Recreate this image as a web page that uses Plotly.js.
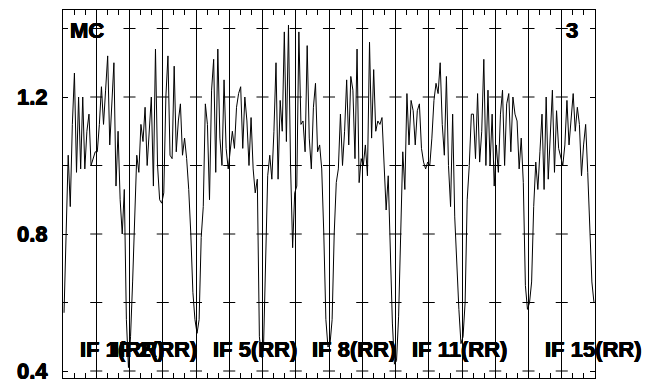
<!DOCTYPE html>
<html>
<head>
<meta charset="utf-8">
<script src="https://cdn.plot.ly/plotly-3.0.1.min.js"></script>
<style>html,body{margin:0;padding:0;background:#fff;}#chart{width:652px;height:380px;}</style>
</head>
<body>
<div id="chart"></div>
<script>
// Amplitude per channel, 16 channels per IF
var if01 = [0.57, 0.80, 1.03, 0.88, 1.12, 1.27, 0.98, 1.20, 0.99, 1.20, 0.99, 1.10, 1.15, 1.00, 1.02, 1.04];
var if02 = [1.04, 1.12, 1.23, 1.12, 1.22, 1.32, 1.06, 1.20, 1.30, 0.94, 1.10, 0.90, 0.80, 0.93, 0.55, 0.41];
var if03 = [0.50, 0.66, 0.88, 1.03, 0.98, 1.12, 1.07, 1.17, 1.00, 1.09, 1.20, 0.94, 1.34, 1.00, 0.90, 0.89];
var if04 = [0.92, 1.20, 1.32, 1.03, 1.02, 1.29, 1.04, 1.13, 1.18, 1.03, 1.08, 1.02, 0.93, 0.80, 0.63, 0.55];
var if05 = [0.51, 0.55, 0.79, 0.88, 1.18, 1.12, 0.90, 1.22, 1.31, 0.98, 1.34, 1.08, 1.00, 1.25, 1.05, 0.99];
var if06 = [1.04, 1.10, 1.05, 1.17, 1.21, 1.23, 1.05, 1.20, 1.13, 1.00, 1.14, 0.99, 0.92, 0.96, 0.50, 0.44];
var if07 = [0.47, 0.70, 0.97, 1.03, 0.96, 1.10, 1.30, 0.96, 1.19, 1.10, 1.39, 1.07, 1.41, 1.00, 0.76, 0.92];
var if08 = [0.94, 1.39, 1.12, 1.13, 1.04, 1.35, 1.08, 0.99, 1.17, 1.24, 1.04, 1.06, 0.99, 0.80, 0.55, 0.47];
var if09 = [0.48, 0.55, 0.80, 0.95, 0.99, 1.15, 1.00, 1.10, 1.25, 1.06, 1.26, 1.22, 1.02, 1.34, 0.95, 1.02];
var if10 = [1.00, 1.06, 0.97, 1.36, 1.08, 1.28, 1.10, 1.13, 1.12, 1.14, 1.01, 0.87, 0.97, 0.72, 0.54, 0.42];
var if11 = [0.43, 0.56, 0.85, 1.04, 0.93, 1.21, 1.06, 1.19, 1.16, 1.06, 1.16, 1.18, 1.05, 1.01, 0.99, 1.01];
var if12 = [1.00, 1.08, 1.19, 1.24, 1.21, 1.30, 1.12, 1.03, 1.26, 1.00, 0.88, 1.15, 0.85, 0.70, 0.58, 0.48];
var if13 = [0.50, 0.60, 0.90, 1.00, 1.15, 1.15, 1.02, 1.21, 1.01, 1.10, 1.31, 1.00, 1.22, 1.00, 1.15, 0.94];
var if14 = [1.06, 0.98, 1.15, 1.22, 1.00, 1.18, 1.21, 1.04, 1.20, 1.15, 1.13, 0.99, 1.08, 0.95, 0.65, 0.58];
var if15 = [0.60, 0.66, 0.88, 1.01, 0.93, 1.04, 1.15, 0.93, 1.20, 0.96, 1.10, 1.22, 0.98, 1.16, 1.05, 1.02];
var if16 = [1.00, 1.06, 1.19, 1.06, 1.15, 1.21, 1.10, 1.17, 1.12, 0.97, 1.06, 1.12, 0.98, 0.80, 0.66, 0.60];

var ifLabels = [1, 2, 5, 8, 11, 15];
var yTickVals = [0.4, 0.6, 0.8, 1.0, 1.2, 1.4];
var yTickText = ['0.4', '', '0.8', '', '1.2', ''];
var cornerLeft = 'MC';
var cornerRight = '3';

var allIF = [if01, if02, if03, if04, if05, if06, if07, if08, if09, if10, if11, if12, if13, if14, if15, if16];
var nIF = allIF.length;

var xs = [], ys = [];
allIF.forEach(function (arr, k) {
  var n = arr.length;
  arr.forEach(function (v, j) {
    xs.push(k + (j + 0.5) / n);
    ys.push(v);
  });
});

// tick crosses on the interior IF separators
var cx = [], cy = [];
for (var b = 1; b < nIF; b++) {
  yTickVals.forEach(function (t) { cx.push(b); cy.push(t); });
}

function mkFont() {
  return {family: 'Liberation Sans', size: 22, color: '#000', weight: 'bold',
          shadow: '0.45px 0 0 #000, -0.45px 0 0 #000, 0 0.45px 0 #000, 0 -0.45px 0 #000'};
}

var traces = [
  {x: cx, y: cy, type: 'scatter', mode: 'markers', hoverinfo: 'skip',
   marker: {symbol: 'line-ew', size: 8.6, color: '#000', line: {color: '#000', width: 1}}},
  {x: xs, y: ys, type: 'scatter', mode: 'lines', hoverinfo: 'skip',
   line: {color: '#000', width: 1}}
];

var annotations = ifLabels.map(function (k) {
  return {xref: 'x', yref: 'paper', x: (k - 1) + 0.44, y: 0.077, xanchor: 'left', yanchor: 'middle',
          text: 'IF ' + k + '(RR)', showarrow: false, font: mkFont()};
});
annotations.push({xref: 'paper', yref: 'paper', x: 0.0103, y: 0.945, xanchor: 'left', yanchor: 'middle',
                  text: cornerLeft, showarrow: false, font: mkFont()});
annotations.push({xref: 'paper', yref: 'paper', x: 0.9727, y: 0.945, xanchor: 'right', yanchor: 'middle',
                  text: cornerRight, showarrow: false, font: mkFont()});

var layout = {
  width: 652, height: 380,
  margin: {l: 63, r: 57, t: 10, b: 2, pad: 0},
  paper_bgcolor: '#fff', plot_bgcolor: '#fff',
  showlegend: false,
  xaxis: {
    range: [0, nIF], showgrid: true, gridcolor: '#000', gridwidth: 1,
    tick0: 0, dtick: 1, ticks: 'inside', ticklen: 5, tickcolor: '#000',
    showticklabels: false, zeroline: false,
    showline: true, linecolor: '#000', linewidth: 1, mirror: 'allticks',
    minor: {tick0: 0, dtick: 1 / 3, ticks: 'inside', ticklen: 5, tickcolor: '#000', showgrid: false}
  },
  yaxis: {
    range: [0.3796, 1.454], tickmode: 'array', tickvals: yTickVals, ticktext: yTickText,
    ticks: 'inside', ticklen: 5, tickcolor: '#000', showgrid: false, zeroline: false,
    showline: true, linecolor: '#000', linewidth: 1, mirror: 'ticks',
    tickfont: mkFont(), ticklabelstandoff: 10, ticklabeloverflow: 'allow'
  },
  annotations: annotations
};

Plotly.newPlot('chart', traces, layout, {staticPlot: true, displayModeBar: false});
</script>
</body>
</html>
